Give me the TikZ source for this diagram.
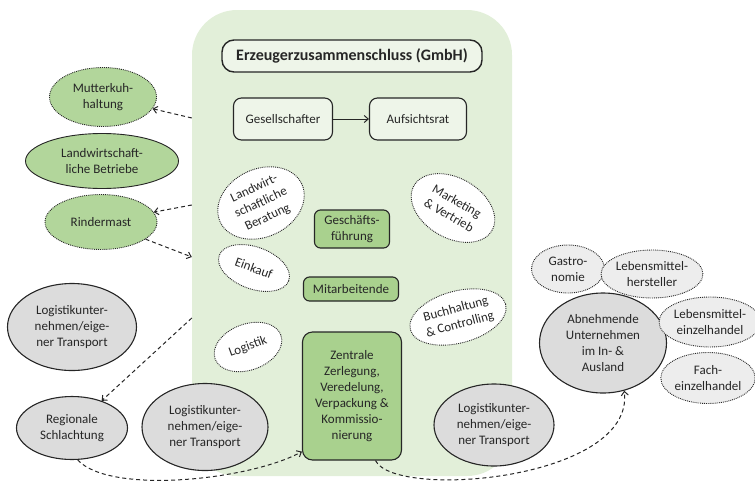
\documentclass[tikz,border=0pt]{standalone}
\usepackage{fontspec}
\setmainfont{Carlito}
\usetikzlibrary{shapes.geometric, arrows.meta, positioning, calc}
\definecolor{bggreen}{RGB}{226,239,217}
\definecolor{palegreen}{RGB}{238,245,233}
\definecolor{midgreen}{RGB}{169,209,142}
\definecolor{leafgreen}{RGB}{178,214,155}
\definecolor{lightgrey}{RGB}{220,220,220}
\definecolor{palegrey}{RGB}{237,237,237}
\definecolor{inkgrey}{RGB}{38,38,38}

\begin{document}
\begin{tikzpicture}[x=1pt, y=-1pt,
    every node/.style={font=\fontsize{13}{16}\selectfont, text=inkgrey, align=center},
    orgbox/.style={rectangle, draw=inkgrey, line width=1.1pt, fill=palegreen, rounded corners=8pt, inner sep=0pt},
    unitbox/.style={rectangle, draw=inkgrey, line width=1.1pt, fill=midgreen, rounded corners=6pt, inner sep=0pt},
    dept/.style={ellipse, draw=inkgrey, densely dotted, line width=0.9pt, fill=white, inner sep=0pt},
    farm/.style={ellipse, draw=inkgrey, line width=0.9pt, fill=leafgreen, inner sep=0pt},
    partner/.style={ellipse, draw=inkgrey, line width=1.1pt, fill=lightgrey, inner sep=0pt},
    buyer/.style={ellipse, draw=inkgrey, densely dotted, line width=0.9pt, fill=palegrey, inner sep=0pt},
    flow/.style={-{Straight Barb[length=4pt,width=7pt]}, dash pattern=on 4pt off 3pt, line width=1pt, inkgrey}
]
    \useasboundingbox (0,0) rectangle (755,488);

    \node[rectangle, fill=bggreen, rounded corners=45pt, minimum width=320, minimum height=466] (erz) at (352,243) {};
    \node[orgbox, line width=1.4pt, minimum width=260, minimum height=32, rounded corners=12pt,
          font=\fontsize{16}{19}\selectfont\bfseries] (title) at (352,56) {Erzeugerzusammenschluss (GmbH)};
    \node[orgbox, minimum width=99, minimum height=42] (ges) at (283,119) {Gesellschafter};
    \node[orgbox, minimum width=97, minimum height=42] (auf) at (418,119) {Aufsichtsrat};

    \node[unitbox, minimum width=75, minimum height=38] (gf) at (352,229) {Geschäfts-\\führung};
    \node[unitbox, minimum width=95, minimum height=24] (mit) at (351,289) {Mitarbeitende};
    \node[unitbox, minimum width=99, minimum height=128, rounded corners=10pt] (zen) at (352,396)
        {Zentrale\\Zerlegung,\\Veredelung,\\Verpackung \&\\Kommissio-\\nierung};

    \node[dept, minimum width=90, minimum height=68, rotate=25] (lb) at (261,203) {Landwirt-\\schaftliche\\Beratung};
    \node[dept, minimum width=90, minimum height=60, rotate=-30] (mv) at (453,208) {Marketing\\\& Vertrieb};
    \node[dept, minimum width=74, minimum height=42, rotate=-20] (ek) at (254,268) {Einkauf};
    \node[dept, minimum width=92, minimum height=52, rotate=15] (bc) at (458,317) {Buchhaltung\\\& Controlling};
    \node[dept, minimum width=70, minimum height=46, rotate=20] (lo) at (248,347) {Logistik};

    \node[farm, densely dotted, minimum width=107, minimum height=59] (mk) at (103,97) {Mutterkuh-\\haltung};
    \node[farm, minimum width=153, minimum height=55] (lw) at (102,161) {Landwirtschaft-\\liche Betriebe};
    \node[farm, densely dotted, minimum width=112, minimum height=55] (rm) at (101,222) {Rindermast};

    \node[partner, minimum width=129, minimum height=87] (lt1) at (72,327) {Logistikunter-\\nehmen/eige-\\ner Transport};
    \node[partner, minimum width=111, minimum height=63] (rs) at (72,428) {Regionale\\Schlachtung};
    \node[partner, minimum width=126, minimum height=87] (lt2) at (205,427) {Logistikunter-\\nehmen/eige-\\ner Transport};
    \node[partner, minimum width=120, minimum height=82] (lt3) at (494,425) {Logistikunter-\\nehmen/eige-\\ner Transport};
    \node[partner, minimum width=127, minimum height=100] (ab) at (603,343) {Abnehmende\\Unternehmen\\im In- \&\\Ausland};

    \node[buyer, minimum width=73, minimum height=48] (ga) at (568,269) {Gastro-\\nomie};
    \node[buyer, minimum width=91, minimum height=48] (lh) at (652,274) {Lebensmittel-\\hersteller};
    \node[buyer, minimum width=89, minimum height=50] (le) at (710,322) {Lebensmittel-\\einzelhandel};
    \node[buyer, minimum width=89, minimum height=51] (fe) at (708,378) {Fach-\\einzelhandel};

    \coordinate (w1) at (erz.west |- 0,118);
    \coordinate (w2) at (erz.west |- 0,205);
    \coordinate (w3) at (erz.west |- 0,257);
    \coordinate (w4) at (erz.west |- 0,318);

    \draw[-{Straight Barb[length=4pt,width=7pt]}, line width=1pt, inkgrey] (ges) -- (auf);
    \draw[flow] (w1) -- (mk);
    \draw[flow] (w2) -- (rm);
    \draw[flow] (rm) -- (w3);
    \draw[flow] (w4) -- (rs);
    \draw[flow] (rs.-80) .. controls (110,495) and (250,480) .. (zen.228);
    \draw[flow] (zen.-70) .. controls (395,500) and (635,480) .. (ab.-66);
\end{tikzpicture}
\end{document}
